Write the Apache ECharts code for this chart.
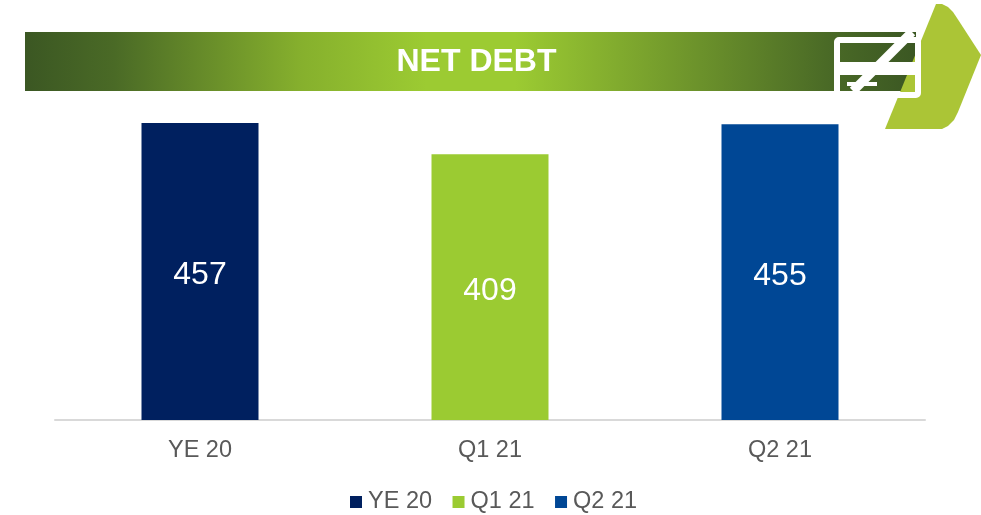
<!DOCTYPE html>
<html><head><meta charset="utf-8">
<style>html,body{margin:0;padding:0;background:#fff}#c{width:981px;height:515px}</style>
<script src="https://cdn.jsdelivr.net/npm/echarts@6/dist/echarts.min.js"></script>
</head><body><div id="c"></div>
<script>
const titleText = 'NET DEBT';
const categories = ['YE 20', 'Q1 21', 'Q2 21'];
const seriesNames = ['YE 20', 'Q1 21', 'Q2 21'];
const ye20 = [457, null, null];
const q121 = [null, 409, null];
const q221 = [null, null, 455];
const colors = ['#00205F', '#9BCB32', '#004795'];
const font = '"Liberation Sans", Arial, sans-serif';
const chart = echarts.init(document.getElementById('c'), null, {renderer: 'canvas'});
const mk = (name, data, color) => ({
  name, type: 'bar', stack: 'a', data, barWidth: 117,
  itemStyle: {color},
  label: {show: true, position: 'inside', offset: [0, 4], color: '#fff', fontSize: 32, fontFamily: font}
});
chart.setOption({
  animation: false,
  backgroundColor: '#fff',
  color: colors,
  grid: {left: 55, right: 56, top: 123, bottom: 95},
  xAxis: {
    type: 'category', data: categories,
    axisTick: {show: false},
    axisLine: {lineStyle: {color: '#D9D9D9', width: 2}},
    axisLabel: {color: '#595959', fontSize: 23.5, fontFamily: font, margin: 19}
  },
  yAxis: {type: 'value', min: 0, max: 457, show: false, splitLine: {show: false}},
  legend: {
    left: 350, top: 490, padding: 0, icon: 'rect', itemWidth: 12, itemHeight: 12, itemGap: 20.5,
    textStyle: {color: '#595959', fontSize: 23.5, fontFamily: font, padding: [0, 0, 0, 1]},
    data: seriesNames
  },
  series: [mk(seriesNames[0], ye20, colors[0]), mk(seriesNames[1], q121, colors[1]), mk(seriesNames[2], q221, colors[2])],
  graphic: {elements: [
    {type: 'rect', z: 10, shape: {x: 25, y: 32, width: 891, height: 59},
      style: {fill: {type: 'linear', x: 0, y: 0, x2: 1, y2: 0, colorStops: [
        {offset: 0, color: '#3B5723'}, {offset: 0.1, color: '#4A6A26'}, {offset: 0.31, color: '#86B02D'}, {offset: 0.45, color: '#9CCB32'},
        {offset: 0.55, color: '#9CCB32'}, {offset: 0.9, color: '#4A6A26'}, {offset: 1, color: '#3B5723'}]}}},
    {type: 'polygon', z: 11, shape: {points: [[936,4],[942,4],[948,7],[953,12],[957,18],[981,55],[958,112],[954,120],[948,126],[942,129],[936,129],[885,129]]},
      style: {fill: '#ABC536'}},
    {type: 'rect', z: 12, shape: {x: 837, y: 40, width: 81, height: 55, r: 2}, style: {fill: 'none', stroke: '#fff', lineWidth: 6}},
    {type: 'rect', z: 12, shape: {x: 837, y: 62, width: 80, height: 13}, style: {fill: '#fff'}},
    {type: 'rect', z: 12, shape: {x: 834, y: 91, width: 66, height: 7}, style: {fill: '#fff'}},
    {type: 'rect', z: 12, shape: {x: 847, y: 82, width: 15, height: 4}, style: {fill: '#fff'}},
    {type: 'rect', z: 12, shape: {x: 863, y: 82, width: 14, height: 4}, style: {fill: '#fff'}},
    {type: 'line', z: 12, shape: {x1: 912, y1: 32, x2: 853, y2: 91}, style: {stroke: '#fff', lineWidth: 9}},
    {type: 'text', z: 13, style: {x: 476.5, y: 62, text: titleText, fill: '#fff', font: 'bold 32px ' + font, align: 'center', verticalAlign: 'middle'}}
  ]}
});
</script></body></html>
